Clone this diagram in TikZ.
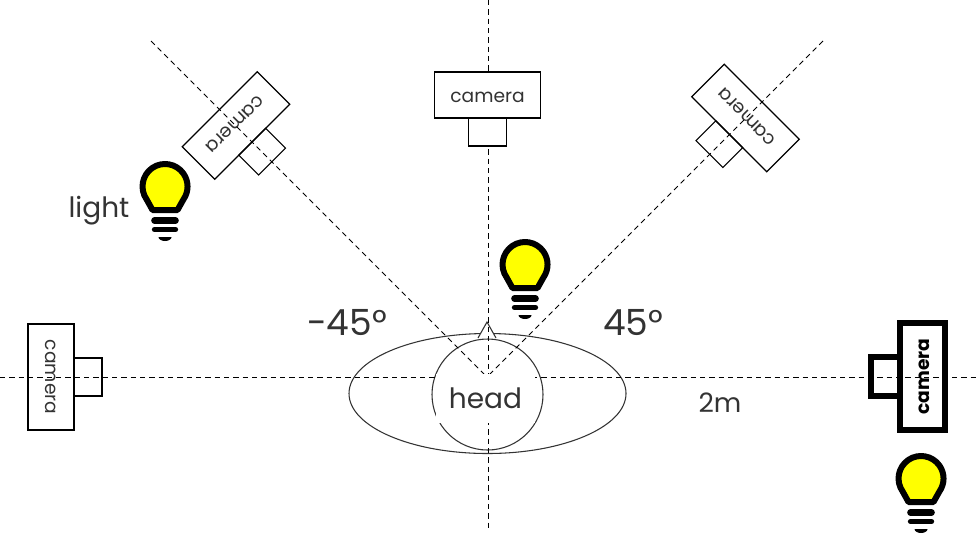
\documentclass[tikz,border=0pt]{standalone}
\usepackage{fontspec}
\setmainfont{Poppins}
\usetikzlibrary{arrows.meta, positioning, shapes.geometric, calc}
\definecolor{inkgray}{HTML}{333333}
\definecolor{bulbyellow}{RGB}{255,255,0}
\tikzset{
  camerabody/.style={
    rectangle,
    draw,
    line width=0.9pt,
    outer sep=0pt,
    minimum width=79.5pt,
    minimum height=34.5pt,
    inner sep=0pt,
    text height=11pt,
    text depth=0pt,
    text=inkgray,
    font=\fontsize{14pt}{16pt}\selectfont
  },
  cameralens/.style={
    rectangle,
    draw,
    line width=0.9pt,
    outer sep=0pt,
    minimum width=28.5pt,
    minimum height=21pt,
    inner sep=0pt
  },
  boldbody/.style={
    camerabody,
    line width=4.5pt,
    minimum width=80pt,
    minimum height=34pt,
    text=black,
    font=\fontsize{14pt}{16pt}\selectfont\bfseries
  },
  boldlens/.style={
    cameralens,
    line width=4.5pt,
    minimum width=29pt,
    minimum height=21.75pt
  },
  axis/.style={line width=0.7pt, dash pattern=on 4pt off 3pt},
  biglabel/.style={text=inkgray, inner sep=0pt, font=\fontsize{27pt}{30pt}\selectfont},
  smalllabel/.style={text=inkgray, inner sep=0pt, font=\fontsize{20pt}{24pt}\selectfont},
  outline/.style={draw=inkgray, line width=0.8pt},
  bulb/.pic={
    \draw[fill=bulbyellow, line width=4.5pt, line join=round]
      (-12.5,23.5) -- (-18.4,12.9) arc[start angle=145, end angle=395, radius=22.5] -- (12.5,23.5) -- cycle;
    \draw[line width=5pt, line cap=round] (-10.5,34) -- (10.5,34);
    \draw[line width=4pt, line cap=round] (-10.5,43) -- (10.5,43);
    \fill (-6.5,50.5) -- (6.5,50.5) arc[start angle=0, end angle=180, x radius=6.5, y radius=4] -- cycle;
  }
}
\begin{document}
\begin{tikzpicture}[x=0.75pt, y=-0.75pt]
  \useasboundingbox (0,0) rectangle (980,533);

  \coordinate (axisleft) at (0,377);
  \coordinate (axisright) at (980,377);
  \coordinate (axistop) at (488,0);
  \coordinate (axisbottom) at (488,530);
  \coordinate (diagleft) at (151,41);
  \coordinate (diagright) at (823,41);
  \coordinate (centerleft) at (484,374);
  \coordinate (centerright) at (490,374);
  \coordinate (noseleft) at (478,338);
  \coordinate (noseright) at (496,338);
  \coordinate (nosetip) at (487,322);

  \node[camerabody, rotate=225] (camul) at (236,125.5) {camera};
  \node[cameralens, rotate=225, anchor=south] (lensul) at (camul.north) {};
  \node[camerabody, rotate=135] (camur) at (745.5,118) {camera};
  \node[cameralens, rotate=135, anchor=south] (lensur) at (camur.north) {};
  \node[camerabody, rotate=-90, text height=8pt] (camleft) at (51,377) {camera};
  \node[cameralens, rotate=-90, anchor=south] (lensleft) at (camleft.north) {};
  \node[boldbody, rotate=90] (camright) at (922.5,376.5) {camera};
  \node[boldlens, rotate=90, anchor=south] (lensright) at (camright.north) {};

  \node[ellipse, outline, minimum width=207.75pt, minimum height=90pt, inner sep=0pt] (face) at (487.5,393.5) {};
  \node[circle, outline, minimum size=83.25pt, inner sep=0pt] (skull) at (487.5,394.5) {};
  \fill[white] (noseleft) -- (nosetip) -- (noseright) -- cycle;
  \draw[outline] (noseleft) -- (nosetip) -- (noseright);

  \draw[axis] (axisleft) -- (axisright);
  \draw[axis] (axistop) -- (axisbottom);
  \draw[axis] (diagleft) -- (centerleft);
  \draw[axis] (diagright) -- (centerright);

  \node[camerabody, fill=white] (camtop) at (487.5,95) {camera};
  \node[cameralens, fill=white, anchor=north] (lenstop) at (camtop.south) {};

  \node[fill=white, minimum width=74.25pt, minimum height=36.75pt, inner sep=0pt, text=inkgray,
        font=\fontsize{21pt}{24pt}\selectfont] (head) at (485.5,398.5) {head};

  \node[biglabel] (neglabel) at (347,322) {-45°};
  \node[biglabel] (poslabel) at (633,322) {45°};
  \node[smalllabel] (dist) at (720,403) {2m};
  \node[smalllabel, font=\fontsize{21pt}{24pt}\selectfont] (lightlabel) at (99,211) {light};

  \pic at (165,186.5) {bulb};
  \pic at (525,264.5) {bulb};
  \pic at (921,478.5) {bulb};
\end{tikzpicture}
\end{document}
